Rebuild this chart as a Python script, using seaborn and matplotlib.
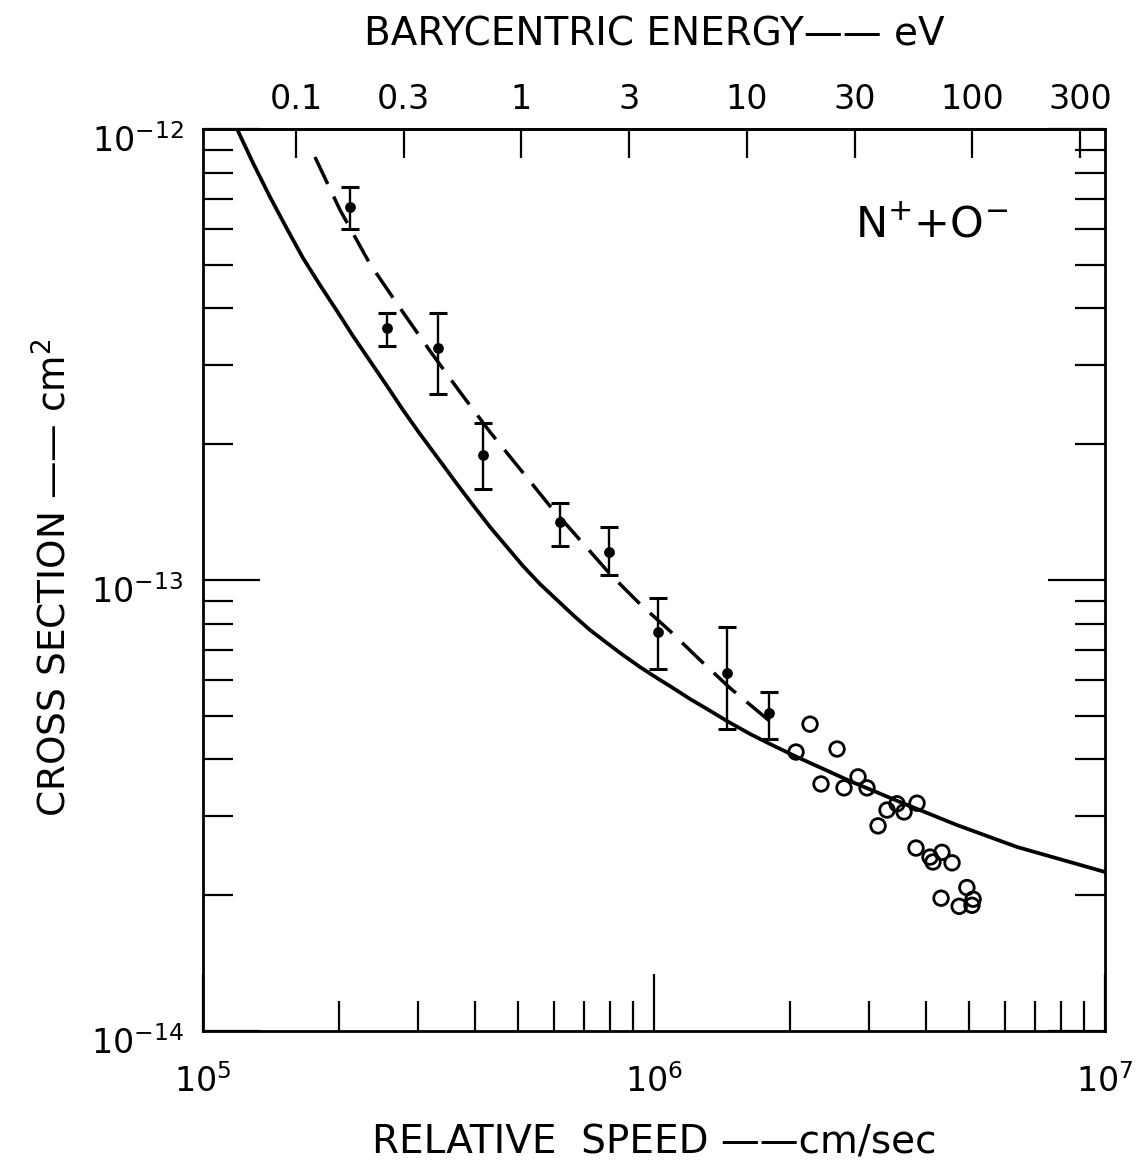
import numpy as np
import matplotlib
matplotlib.use("Agg")
import matplotlib.pyplot as plt
import matplotlib.transforms as mtransforms
from matplotlib.ticker import FixedLocator, LogLocator, NullLocator, NullFormatter
import seaborn as sns

# Calculated cross section (solid curve), speed in cm/s, sigma in cm^2
theory_speed = [1.190e5, 1.291e5, 1.408e5, 1.536e5, 1.666e5, 1.817e5, 1.982e5,
                2.151e5, 2.346e5, 2.559e5, 2.776e5, 3.028e5, 3.354e5, 3.658e5,
                3.969e5, 4.329e5, 4.721e5, 5.123e5, 5.587e5, 6.095e5, 6.613e5,
                7.212e5, 7.866e5, 8.535e5, 9.310e5, 1.015e6, 1.102e6, 1.202e6,
                1.311e6, 1.452e6, 1.633e6, 1.808e6, 2.076e6, 2.720e6, 3.512e6,
                4.697e6, 6.380e6, 1.0e7]
theory_sigma = [1.0e-12, 8.406e-13, 7.067e-13, 6.002e-13, 5.176e-13, 4.509e-13, 3.949e-13,
                3.475e-13, 3.059e-13, 2.692e-13, 2.382e-13, 2.107e-13, 1.836e-13, 1.632e-13,
                1.466e-13, 1.311e-13, 1.183e-13, 1.074e-13, 9.798e-14, 9.030e-14, 8.364e-14,
                7.747e-14, 7.249e-14, 6.818e-14, 6.413e-14, 6.063e-14, 5.761e-14, 5.447e-14,
                5.176e-14, 4.867e-14, 4.556e-14, 4.329e-14, 4.050e-14, 3.583e-14, 3.219e-14,
                2.862e-14, 2.559e-14, 2.252e-14]

# Curve through the merged-beam data (dashed)
fit_speed = [1.771e5, 2.013e5, 2.346e5, 2.734e5, 3.187e5, 3.714e5, 4.329e5, 5.046e5,
             5.880e5, 6.853e5, 7.988e5, 9.310e5, 1.085e6, 1.265e6, 1.474e6, 1.718e6,
             1.883e6]
fit_sigma = [8.668e-13, 6.613e-13, 5.019e-13, 4.010e-13, 3.219e-13, 2.611e-13, 2.129e-13,
             1.762e-13, 1.459e-13, 1.227e-13, 1.031e-13, 8.847e-14, 7.708e-14, 6.646e-14,
             5.761e-14, 5.071e-14, 4.697e-14]

# Merged-beam measurements with error bars (filled dots)
beam_speed = [2.118e5, 2.559e5, 3.32e5, 4.177e5, 6.19e5, 7.95e5, 1.021e6, 1.452e6, 1.799e6]
beam_sigma = [6.72e-13, 3.62e-13, 3.27e-13, 1.893e-13, 1.345e-13, 1.153e-13, 7.67e-14,
              6.22e-14, 5.07e-14]
beam_upper = [7.43e-13, 3.91e-13, 3.91e-13, 2.23e-13, 1.482e-13, 1.311e-13, 9.12e-14,
              7.87e-14, 5.65e-14]
beam_lower = [6.00e-13, 3.30e-13, 2.585e-13, 1.591e-13, 1.19e-13, 1.026e-13, 6.35e-14,
              4.67e-14, 4.44e-14]

# Higher-energy measurements (open circles)
high_speed = [2.218e6, 2.065e6, 2.546e6, 2.346e6, 2.638e6, 2.834e6, 2.967e6, 3.286e6,
              3.139e6, 3.458e6, 3.584e6, 3.83e6, 3.81e6, 4.093e6, 4.155e6, 4.35e6,
              4.58e6, 4.33e6, 4.94e6, 4.75e6, 5.10e6, 5.07e6]
high_sigma = [4.79e-14, 4.155e-14, 4.22e-14, 3.53e-14, 3.46e-14, 3.66e-14, 3.46e-14, 3.09e-14,
              2.85e-14, 3.19e-14, 3.06e-14, 3.20e-14, 2.545e-14, 2.43e-14, 2.37e-14, 2.49e-14,
              2.36e-14, 1.97e-14, 2.08e-14, 1.89e-14, 1.96e-14, 1.90e-14]

# Barycentric energy axis
energy_ticks = [0.1, 0.3, 1, 3, 10, 30, 100, 300]
energy_labels = ["0.1", "0.3", "1", "3", "10", "30", "100", "300"]

speed_ticks = [1e5, 1e6, 1e7]
sigma_ticks = [1e-14, 1e-13, 1e-12]

# Reduced mass of N+ + O- and conversion speed (cm/s) <-> energy (eV)
AMU = 1.66054e-27
EV = 1.602177e-19
M_N, M_O = 14.003, 15.995
MU = M_N * M_O / (M_N + M_O) * AMU
K_EV = 0.5 * MU * 1e-4 / EV  # E[eV] = K_EV * v[cm/s]^2


def speed_to_energy(v):
    v = np.asarray(v, dtype=float)
    return K_EV * v ** 2


def energy_to_speed(e):
    e = np.asarray(e, dtype=float)
    return np.sqrt(np.clip(e, 1e-300, None) / K_EV)


sns.set_theme(style="ticks")
plt.rcParams["font.family"] = ["DejaVu Sans"]
plt.rcParams.update({
    "mathtext.default": "regular",
    "axes.linewidth": 2.0,
    "text.color": "black",
    "axes.labelcolor": "black",
    "xtick.color": "black",
    "ytick.color": "black",
    "axes.edgecolor": "black",
})

W, H = 1139, 1166
fig = plt.figure(figsize=(W / 100, H / 100), dpi=100)
ax = fig.add_axes([203 / W, 1 - 1031 / H, 902 / W, 902 / H])
ax.set_xscale("log")
ax.set_yscale("log")
ax.set_xlim(1e5, 1e7)
ax.set_ylim(1e-14, 1e-12)

sns.lineplot(x=theory_speed, y=theory_sigma, ax=ax, color="black", lw=2.7,
             sort=False, estimator=None)
sns.lineplot(x=fit_speed, y=fit_sigma, ax=ax, color="black", lw=2.5,
             linestyle=(0, (8.6, 4.0)), sort=False, estimator=None)

b_sig = np.array(beam_sigma)
yerr = [b_sig - np.array(beam_lower), np.array(beam_upper) - b_sig]
ax.errorbar(beam_speed, beam_sigma, yerr=yerr, fmt="none", ecolor="black",
            elinewidth=1.7, capsize=6.8, capthick=2.2, zorder=4)
sns.scatterplot(x=beam_speed, y=beam_sigma, ax=ax, color="black", s=60,
                edgecolor="black", linewidth=0, zorder=5)
sns.scatterplot(x=high_speed, y=high_sigma, ax=ax, facecolors="none",
                edgecolor="black", s=110, linewidth=2.0, zorder=5)

# Bottom / side ticks
ax.xaxis.set_major_locator(FixedLocator(speed_ticks))
ax.xaxis.set_minor_locator(LogLocator(base=10, subs=np.arange(2, 10)))
ax.xaxis.set_minor_formatter(NullFormatter())
ax.yaxis.set_major_locator(FixedLocator(sigma_ticks))
ax.yaxis.set_minor_locator(LogLocator(base=10, subs=np.arange(2, 10)))
ax.yaxis.set_minor_formatter(NullFormatter())

ax.tick_params(axis="x", which="major", direction="in", length=41, width=1.6,
               top=False, labeltop=False, labelsize=24, pad=24)
ax.tick_params(axis="x", which="minor", direction="in", length=21.5, width=1.6,
               top=False)
ax.tick_params(axis="y", which="major", direction="in", length=41, width=1.6,
               left=True, right=True, labelsize=24, pad=14)
ax.tick_params(axis="y", which="minor", direction="in", length=21.5, width=1.6,
               left=True, right=True)

# nudge the decade labels on the cross-section axis slightly downward
shift_down = mtransforms.ScaledTranslation(0, -9 / 100, fig.dpi_scale_trans)
for lab in ax.get_yticklabels():
    lab.set_transform(lab.get_transform() + shift_down)

for sp in ax.spines.values():
    sp.set_linewidth(2.0)
    sp.set_color("black")

# Energy scale along the top
secax = ax.secondary_xaxis("top", functions=(speed_to_energy, energy_to_speed))
secax.set_xticks(energy_ticks, labels=energy_labels)
secax.xaxis.set_minor_locator(NullLocator())
secax.tick_params(axis="x", direction="in", length=21, width=1.6,
                  labelsize=24, pad=9.5)
secax.spines["top"].set_linewidth(2.0)
secax.set_xlabel("BARYCENTRIC ENERGY\u2014\u2014 eV", fontsize=28, labelpad=27)

ax.set_xlabel("RELATIVE  SPEED \u2014\u2014cm/sec", fontsize=28)
ax.xaxis.set_label_coords(0.5, -0.103)
ax.set_ylabel("CROSS SECTION \u2014\u2014 cm$^{2}$", fontsize=27)
ax.yaxis.set_label_coords(-0.143, 0.503)

ax.text(0.808, 0.8936, "N$^{+}$+O$^{-}$", transform=ax.transAxes,
        ha="center", va="center", fontsize=31)

fig.savefig("out.png", dpi=100, facecolor="white")
